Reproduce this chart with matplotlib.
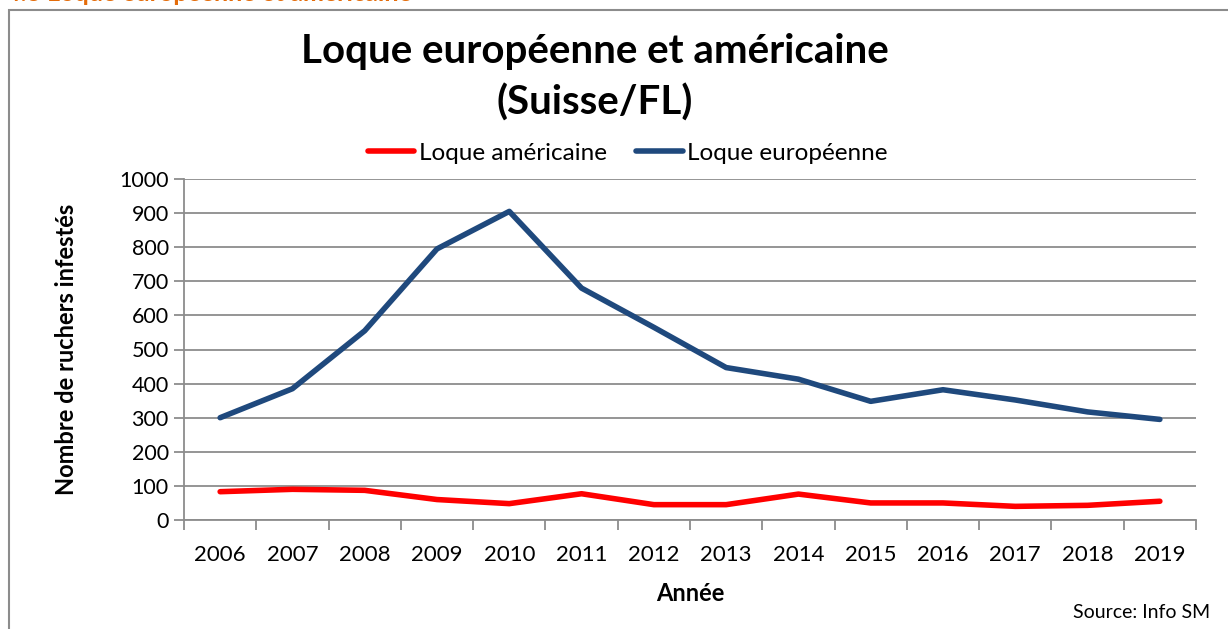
import matplotlib.pyplot as plt
from matplotlib.patches import Rectangle

years = ["2006", "2007", "2008", "2009", "2010", "2011", "2012",
         "2013", "2014", "2015", "2016", "2017", "2018", "2019"]
loque_americaine = [83, 90, 87, 60, 48, 77, 45, 45, 76, 50, 50, 40, 43, 55]
loque_europeenne = [300, 385, 555, 795, 905, 680, 565, 447, 413, 348, 382, 352, 317, 295]

plt.rcParams["font.family"] = ["Lato", "DejaVu Sans"]

fig = plt.figure(figsize=(12.28, 6.29), dpi=100)

# cadre du graphique
fig.patches.append(Rectangle((9 / 1228, -0.1), 1.2, 1 - 10 / 629 + 0.1,
                             transform=fig.transFigure, fill=False,
                             edgecolor="#8c8c8c", linewidth=1.5))
# titre de section coupé en haut de l'image
fig.text(6 / 1228, 1 - 0.6 / 629, "4.3 Loque européenne et américaine",
         color="#e46c0a", fontsize=18, fontweight="bold", va="baseline")

ax = fig.add_axes([184 / 1228, 1 - 520 / 629, (1196 - 184) / 1228, (520 - 179) / 629])

x = list(range(len(years)))
ax.plot(x, loque_americaine, color="#ff0000", linewidth=4, solid_capstyle="round",
        label="Loque américaine")
ax.plot(x, loque_europeenne, color="#1f497d", linewidth=4, solid_capstyle="round",
        label="Loque européenne")

ax.set_xlim(-0.5, len(years) - 0.5)
ax.set_ylim(0, 1000)
ax.set_yticks(range(0, 1001, 100))
ax.yaxis.grid(True, color="#8c8c8c", linewidth=1.3)
ax.set_axisbelow(True)

ax.set_xticks([i - 0.5 for i in range(len(years) + 1)])
ax.set_xticklabels([])
ax.set_xticks(x, minor=True)
ax.set_xticklabels(years, minor=True)
ax.tick_params(axis="x", which="minor", length=0, labelsize=16, pad=18)
ax.tick_params(axis="x", which="major", length=7, width=1.3, color="#8c8c8c")
ax.tick_params(axis="y", length=7, width=1.3, color="#8c8c8c", labelsize=15.5, pad=4)

for s in ["top", "right"]:
    ax.spines[s].set_visible(False)
for s in ["left", "bottom"]:
    ax.spines[s].set_color("#8c8c8c")
    ax.spines[s].set_linewidth(1.3)

ax.set_xlabel("Année", fontsize=17, fontweight="bold", labelpad=12)
ax.set_ylabel("Nombre de ruchers infestés", fontsize=17, fontweight="bold", labelpad=30)

fig.text(595 / 1228, 1 - 52 / 629, "Loque européenne et américaine",
         fontsize=29, fontweight="bold", ha="center", va="center")
fig.text(595 / 1228, 1 - 103 / 629, "(Suisse/FL)",
         fontsize=29, fontweight="bold", ha="center", va="center")

ax.legend(loc="center", bbox_to_anchor=(628 / 1228, 1 - 153 / 629),
          bbox_transform=fig.transFigure, ncol=2, frameon=False,
          fontsize=17.5, handlelength=1.9, handletextpad=0.2, columnspacing=1.2)

fig.text(1210 / 1228, 1 - 613 / 629, "Source: Info SM", fontsize=14,
         ha="right", va="center")

fig.savefig("out.png", dpi=100)
